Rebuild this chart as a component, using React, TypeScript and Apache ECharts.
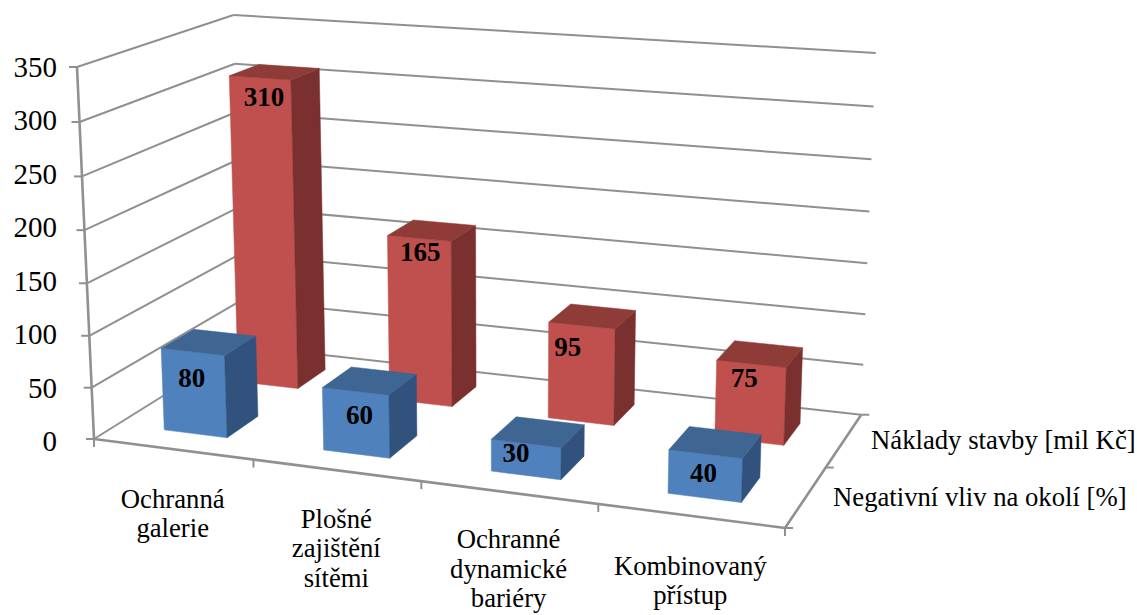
import React, { useEffect, useRef } from "react";
import * as echarts from "echarts";

const categories = ["Ochranná\ngalerie", "Plošné\nzajištění\nsítěmi", "Ochranné\ndynamické\nbariéry", "Kombinovaný\npřístup"];
const impactName = "Negativní vliv na okolí [%]";
const costName = "Náklady stavby [mil Kč]";
const impactValues = [80, 60, 30, 40];
const costValues = [310, 165, 95, 75];
const yTicks = [0, 50, 100, 150, 200, 250, 300, 350];

const FONT = '"Liberation Serif", "Times New Roman", serif';
const YMAX = 350;
const O = [94, 439], PU = [785, 528], PV = [243, 346], PH = [77, 67];
const a = -0.1, b = 0.13, c = -0.04;
const vec = (p: number[], w: number) => [p[0] * w - O[0], p[1] * w - O[1]];
const A = vec(PU, 1 + a), B = vec(PV, 1 + b), C = vec(PH, 1 + c);
function project(u: number, v: number, value: number) {
  const h = value / YMAX;
  const w = 1 + a * u + b * v + c * h;
  return [
    (O[0] + u * A[0] + v * B[0] + h * C[0]) / w,
    (O[1] + u * A[1] + v * B[1] + h * C[1]) / w,
  ];
}
const GRID = "#909090";
const gridLine = (p: number[], q: number[], width = 2) => ({
  type: "line",
  silent: true,
  shape: { x1: p[0], y1: p[1], x2: q[0], y2: q[1] },
  style: { stroke: GRID, lineWidth: width },
});

function renderWalls() {
  const children: any[] = [];
  yTicks.forEach((t) => {
    children.push(gridLine(project(0, 0, t), project(0, 1, t)));
    children.push(gridLine(project(0, 1, t), project(1, 1, t)));
    const f = project(0, 0, t);
    children.push(gridLine([f[0] - 8, f[1]], f, 2));
  });
  children.push(gridLine(project(0, 0, 0), project(0, 0, YMAX), 2.6));
  children.push(gridLine(project(0, 0, 0), project(1, 0, 0), 2.6));
  children.push(gridLine(project(1, 0, 0), project(1, 1, 0), 2.6));
  [0, 1, 2, 3, 4].forEach((i) => {
    const p = project(i / 4, 0, 0);
    children.push(gridLine(p, [p[0], p[1] + 8], 2));
  });
  [0, 0.5, 1].forEach((v) => {
    const p = project(1, v, 0);
    children.push(gridLine(p, [p[0] + 8, p[1]], 2));
  });
  return { type: "group", children };
}

const HALF_U = 0.05, HALF_V = 0.105;
const face = (pts: number[][], fill: string) => ({
  type: "polygon",
  silent: true,
  shape: { points: pts },
  style: { fill, stroke: fill, lineWidth: 0.5 },
});

function barRenderer(vCenter: number, colors: string[], nudge: number[][]) {
  return (_params: any, api: any) => {
    const i = api.value(0);
    const val = api.value(1);
    const uc = (i + 0.5) / 4;
    const u0 = uc - HALF_U, u1 = uc + HALF_U, v0 = vCenter - HALF_V, v1 = vCenter + HALF_V;
    const front = [project(u0, v0, 0), project(u1, v0, 0), project(u1, v0, val), project(u0, v0, val)];
    const side = [project(u1, v0, 0), project(u1, v1, 0), project(u1, v1, val), project(u1, v0, val)];
    const top = [project(u0, v0, val), project(u1, v0, val), project(u1, v1, val), project(u0, v1, val)];
    const anchor = project(uc, v0, val);
    return {
      type: "group",
      children: [
        face(front, colors[0]),
        face(side, colors[1]),
        face(top, colors[2]),
        {
          type: "text",
          silent: true,
          style: {
            text: String(val),
            x: anchor[0] + nudge[i][0],
            y: anchor[1] + nudge[i][1],
            fill: "#000",
            font: `bold 27px ${FONT}`,
            align: "center",
            verticalAlign: "middle",
          },
        },
      ],
    };
  };
}

const categoryDrop = [35, 34, 32, 35];
function renderCategory(params: any, api: any) {
  const i = api.value(0);
  const p = project((i + 0.5) / 4, 0, 0);
  return {
    type: "text",
    silent: true,
    style: {
      text: categories[params.dataIndex],
      x: p[0],
      y: p[1] + categoryDrop[i],
      fill: "#000",
      font: `26.7px ${FONT}`,
      lineHeight: 29.5,
      align: "center",
      verticalAlign: "top",
    },
  };
}

function renderSeriesName(params: any) {
  const v = params.dataIndex === 0 ? 0.25 : 0.75;
  const p = project(1, v, 0);
  return {
    type: "text",
    silent: true,
    style: {
      text: params.dataIndex === 0 ? impactName : costName,
      x: p[0] + 27,
      y: p[1],
      fill: "#000",
      font: `26.7px ${FONT}`,
      align: "left",
      verticalAlign: "middle",
    },
  };
}

const costNudge = [[4, 19], [1, 14], [-14, 21], [-7, 14]];
const impactNudge = [[-1, 26], [4, 24], [-10, 10], [-2, 19]];

export default function App() {
  const ref = useRef<HTMLDivElement>(null);
  useEffect(() => {
    const chart = echarts.init(ref.current!, undefined, { renderer: "svg" });
    const catIdx = categories.map((_, i) => i);
    const silent = { silent: true, clip: false, animation: false };
    chart.setOption({
      animation: false,
      backgroundColor: "#fff",
      grid: { left: 65, right: 70, top: 67, bottom: 174 },
      xAxis: { type: "category", data: catIdx, show: false },
      yAxis: {
        type: "value",
        min: 0,
        max: 350,
        interval: 50,
        axisLine: { show: false },
        axisTick: { show: false },
        splitLine: { show: false },
        axisLabel: { color: "#000", fontFamily: FONT, fontSize: 29, margin: 8 },
      },
      series: [
        { type: "custom", ...silent, renderItem: renderWalls, data: [[0, 0]], z: 1 },
        {
          type: "custom", ...silent, name: costName, z: 2,
          renderItem: barRenderer(0.75, ["#C0504D", "#7A302E", "#8F3B38"], costNudge),
          encode: { x: 0, y: 1 },
          data: costValues.map((v, i) => [i, v]),
        },
        {
          type: "custom", ...silent, name: impactName, z: 3,
          renderItem: barRenderer(0.25, ["#4F81BD", "#30527C", "#3F6592"], impactNudge),
          encode: { x: 0, y: 1 },
          data: impactValues.map((v, i) => [i, v]),
        },
        { type: "custom", ...silent, z: 4, renderItem: renderCategory, data: catIdx.map((i) => [i, 0]) },
        { type: "custom", ...silent, z: 4, renderItem: renderSeriesName, data: [[0, 0], [1, 0]] },
      ],
    });
    return () => chart.dispose();
  }, []);
  return <div ref={ref} style={{ position: "fixed", left: 0, top: 0, width: 1137, height: 615 }} />;
}
